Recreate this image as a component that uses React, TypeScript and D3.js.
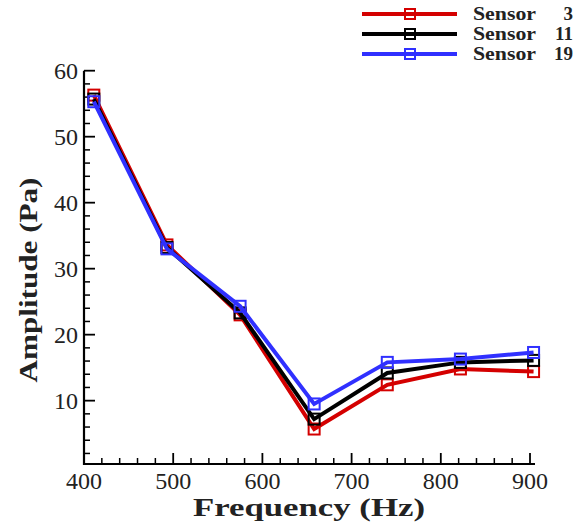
import React from "react";
import * as d3 from "d3";

const frequencies = [411, 493, 575, 658, 740, 822, 904];
const sensor3 = [56.3, 33.6, 23.0, 5.7, 12.4, 14.8, 14.4];
const sensor11 = [55.7, 33.2, 23.3, 7.2, 14.2, 15.8, 16.1];
const sensor19 = [55.3, 33.0, 24.3, 9.5, 15.8, 16.3, 17.3];
const seriesNames = ["Sensor", "Sensor", "Sensor"];
const seriesNums = ["3", "11", "19"];
const seriesColors = ["#d40000", "#000000", "#3030ff"];
const xTicks = [400, 500, 600, 700, 800, 900];
const yTicks = [10, 20, 30, 40, 50, 60];

const W = 576;
const H = 528;

export default function App() {
  const x = d3.scaleLinear().domain([400, 905.6]).range([84, 535]);
  const y = d3.scaleLinear().domain([0.4, 60]).range([464, 70.7]);
  const series = [sensor3, sensor11, sensor19];
  const line = d3
    .line<number>()
    .x((_, i) => x(frequencies[i]))
    .y((d) => y(d));
  const xMinor = d3.range(420, 901, 20).filter((v) => v % 100 !== 0);
  const yMinor = d3.range(2, 60, 2).filter((v) => v % 10 !== 0);
  const font = "'Liberation Serif', 'Times New Roman', serif";
  const ms = 11;
  return (
    <svg
      width={W}
      height={H}
      style={{ position: "absolute", left: 0, top: 0, background: "#fff" }}
      fontFamily={font}
    >
      {/* axes */}
      <line x1={x(400)} x2={x(905.6)} y1={464} y2={464} stroke="#000" strokeWidth={2.2} />
      <line x1={84} x2={84} y1={y(60)} y2={465} stroke="#000" strokeWidth={2.2} />
      {xTicks.map((t) => (
        <g key={"xt" + t}>
          <line x1={x(t)} x2={x(t)} y1={464} y2={453} stroke="#000" strokeWidth={1.8} />
          <text x={x(t)} y={489} fontSize={24} textAnchor="middle" fill="#222">
            {t}
          </text>
        </g>
      ))}
      {xMinor.map((t) => (
        <line key={"xm" + t} x1={x(t)} x2={x(t)} y1={464} y2={458} stroke="#000" strokeWidth={1.5} />
      ))}
      {yTicks.map((t) => (
        <g key={"yt" + t}>
          <line x1={84} x2={95} y1={y(t)} y2={y(t)} stroke="#000" strokeWidth={1.8} />
          <text x={78} y={y(t) + 8} fontSize={24} textAnchor="end" fill="#222">
            {t}
          </text>
        </g>
      ))}
      {yMinor.map((t) => (
        <line key={"ym" + t} x1={84} x2={90} y1={y(t)} y2={y(t)} stroke="#000" strokeWidth={1.5} />
      ))}
      {/* titles */}
      <text
        x={309}
        y={516}
        fontSize={26}
        fontWeight="bold"
        textAnchor="middle"
        textLength={232}
        lengthAdjust="spacingAndGlyphs"
        fill="#222"
      >
        Frequency (Hz)
      </text>
      <text
        transform={`translate(37,280) rotate(-90)`}
        fontSize={26}
        fontWeight="bold"
        textAnchor="middle"
        textLength={205}
        lengthAdjust="spacingAndGlyphs"
        fill="#222"
      >
        Amplitude (Pa)
      </text>
      {/* series */}
      {series.map((s, si) => (
        <g key={"s" + si}>
          <path d={line(s) || ""} fill="none" stroke={seriesColors[si]} strokeWidth={4} strokeLinejoin="miter" />
          {s.map((v, i) => (
            <rect
              key={i}
              x={x(frequencies[i]) - ms / 2}
              y={y(v) - ms / 2}
              width={ms}
              height={ms}
              fill="none"
              stroke={seriesColors[si]}
              strokeWidth={2}
            />
          ))}
        </g>
      ))}
      {/* legend */}
      {seriesNums.map((n, i) => {
        const ly = 14 + i * 20;
        return (
          <g key={"lg" + i}>
            <line x1={362} x2={457} y1={ly} y2={ly} stroke={seriesColors[i]} strokeWidth={4} />
            <rect x={405} y={ly - 5} width={10} height={10} fill="none" stroke={seriesColors[i]} strokeWidth={2} />
            <text
              x={473}
              y={ly + 6}
              fontSize={19}
              fontWeight="bold"
              fill="#222"
              textLength={63}
              lengthAdjust="spacingAndGlyphs"
            >
              {seriesNames[i]}
            </text>
            <text x={573} y={ly + 6} fontSize={19} fontWeight="bold" textAnchor="end" fill="#222">
              {n}
            </text>
          </g>
        );
      })}
    </svg>
  );
}
